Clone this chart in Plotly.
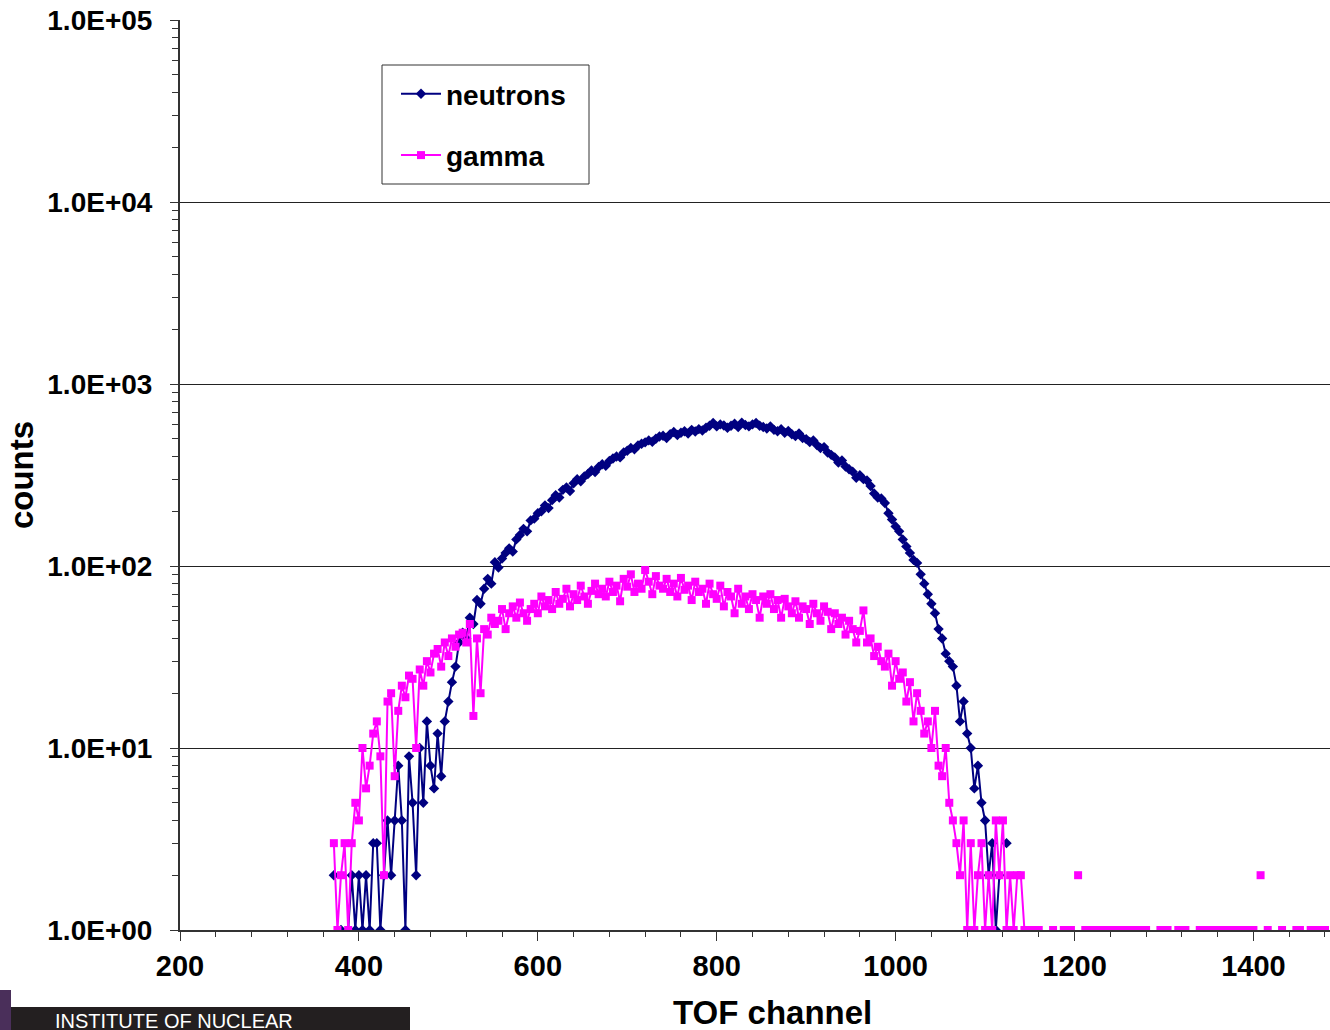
import plotly.graph_objects as go

# TOF channel grid (every 4th channel) and counts
N_START, G_START, STEP = 372, 372, 4

neutron_counts = [
    2, None, 1, None, 1, 2, 1, 2, 1, 2,          # 372-408
    1, 3, 3, 1, 2, 4, 2, 4, 8, 4,                # 412-448
    1, 9, 5, 2, 10, 5, 14, 8, 6, 12,             # 452-488
    7, 14, 18, 23, 28, 38, 43, 40, 52, 48,       # 492-528
    65, 62, 75, 85, 80, 105, 98, 110, 118, 125,  # 532-568
    120, 140, 148, 160, 155, 178, 182, 195, 200, 215,  # 572-608
    208, 230, 245, 238, 262, 270, 258, 285, 300, 292,  # 612-648
    310, 320, 335, 328, 350, 362, 355, 378, 390, 400,  # 652-688
    395, 420, 430, 445, 438, 460, 470, 478, 490, 482,  # 692-728
    500, 515, 520, 505, 530, 545, 525, 540, 550, 535,  # 732-768
    560, 548, 565, 555, 575, 590, 610, 585, 600, 592,  # 772-808
    575, 590, 605, 580, 612, 595, 585, 600, 610, 590,  # 812-848
    580, 570, 585, 560, 550, 565, 540, 552, 530, 518,  # 852-888
    535, 505, 498, 480, 490, 462, 445, 450, 420, 408,  # 892-928
    395, 370, 380, 352, 340, 330, 305, 315, 300, 295,  # 932-968
    275, 250, 238, 235, 222, 195, 180, 165, 155, 140,  # 972-1008
    128, 118, 108, 104, 90, 80, 70, 62, 55, 45,        # 1012-1048
    40, 33, 30, 28, 22, 14, 18, 12, 10, 6,             # 1052-1088
    8, 5, 4, 2, 3, 1, 2, None, 3,                      # 1092-1124
]

gamma_counts = [
    3, 1, 2, 3, 1, 3, 5, 4, 10, 6,               # 372-408
    8, 12, 14, 9, 2, 18, 20, 7, 16, 22,          # 412-448
    19, 25, 24, 10, 27, 22, 30, 26, 33, 35,      # 452-488
    28, 38, 32, 40, 36, 42, 43, 38, 48, 15,      # 492-528
    40, 20, 45, 42, 52, 48, 50, 58, 45, 55,      # 532-568
    60, 52, 63, 55, 50, 58, 62, 55, 68, 60,      # 572-608
    65, 58, 72, 62, 66, 75, 60, 70, 65, 78,      # 612-648
    68, 62, 73, 80, 70, 75, 68, 82, 72, 78,      # 652-688
    64, 85, 77, 90, 72, 80, 75, 95, 82, 70,      # 692-728
    88, 78, 75, 85, 72, 80, 68, 86, 74, 78,      # 732-768
    65, 82, 72, 75, 62, 80, 70, 66, 78, 60,      # 772-808
    72, 68, 55, 75, 62, 68, 58, 70, 65, 52,      # 812-848
    68, 62, 70, 58, 65, 52, 66, 60, 55, 64,      # 852-888
    52, 60, 58, 48, 62, 55, 50, 60, 56, 45,      # 892-928
    55, 48, 52, 42, 50, 45, 38, 44, 57, 38,      # 932-968
    40, 32, 36, 30, 28, 33, 22, 30, 24, 26,      # 972-1008
    18, 23, 14, 20, 16, 12, 14, 10, 16, 8,       # 1012-1048
    7, 10, 5, 4, 3, 2, 4, 1, 3, 1,               # 1052-1088
    2, 3, 1, 2, 1, 4, 2, 4, 1, 2,                # 1092-1128
    1, 2, 2, 1, 1, 1, None, 1, None, None,       # 1132-1168
    None, 1, None, None, 1, 1, 1, None, 2, None, # 1172-1208
    1, 1, 1, 1, 1, 1, 1, None, 1, 1,             # 1212-1248
    1, 1, 1, 1, 1, 1, 1, 1, None, None,          # 1252-1288
    None, 1, 1, 1, None, None, 1, 1, 1, None,    # 1292-1328
    None, None, 1, 1, 1, 1, 1, None, 1, 1,       # 1332-1368
    None, 1, 1, 1, 1, 1, 1, 1, None, 2,          # 1372-1408
    None, 1, None, None, None, 1, None, None, None, 1,  # 1412-1448
    1, None, None, 1, None, 1, 1, 1,             # 1452-1480
]

neutron_channels = [N_START + STEP * i for i in range(len(neutron_counts))]
gamma_channels = [G_START + STEP * i for i in range(len(gamma_counts))]

y_tick_vals = [1, 10, 100, 1000, 10000, 100000]
y_tick_text = ["1.0E+00", "1.0E+01", "1.0E+02", "1.0E+03", "1.0E+04", "1.0E+05"]
x_tick_vals = [200, 400, 600, 800, 1000, 1200, 1400]

FONT = "Liberation Sans, Arial, sans-serif"

# plot-area geometry (pixels) used to place overlays in paper coordinates
L, T, PW, PH = 180, 20, 1150, 910


def px_x(px):
    return (px - L) / PW


def px_y(py):
    return (T + PH - py) / PH


fig = go.Figure()
fig.add_trace(go.Scatter(
    x=neutron_channels, y=neutron_counts, name="neutrons", mode="lines+markers",
    line=dict(color="#000080", width=2),
    marker=dict(symbol="diamond", size=8, color="#000080"),
    connectgaps=False, legendgroup="n",
))
fig.add_trace(go.Scatter(
    x=gamma_channels, y=gamma_counts, name="gamma", mode="lines+markers",
    line=dict(color="#FF00FF", width=2),
    marker=dict(symbol="square", size=8, color="#FF00FF"),
    connectgaps=False, legendgroup="g",
))

minor_y = [m * 10 ** e for e in range(5) for m in range(2, 10)]

fig.update_layout(
    width=1330, height=1030,
    margin=dict(l=L, r=1330 - L - PW, t=T, b=1030 - T - PH, autoexpand=False),
    paper_bgcolor="white", plot_bgcolor="white",
    font=dict(family=FONT, color="black"),
    showlegend=True,
    legend=dict(
        x=px_x(396), y=px_y(69), xanchor="left", yanchor="top",
        bgcolor="rgba(0,0,0,0)", borderwidth=0,
        font=dict(size=28, family=FONT, color="black", weight="bold"),
        traceorder="grouped", tracegroupgap=22, itemwidth=40,
    ),
    xaxis=dict(
        range=[200, 1485.6], showgrid=False, zeroline=False, automargin=False,
        showline=True, linecolor="#333333", linewidth=2,
        tickmode="array", tickvals=x_tick_vals,
        ticks="outside", ticklen=9, tickwidth=1, tickcolor="#333333",
        tickfont=dict(size=29, family=FONT, weight="bold"),
        minor=dict(dtick=40, tick0=200, ticks="outside", ticklen=5, tickcolor="#333333", showgrid=False),
    ),
    yaxis=dict(
        type="log", range=[0, 5], zeroline=False, automargin=False,
        showgrid=True, gridcolor="#222222", gridwidth=1,
        showline=True, linecolor="#333333", linewidth=2,
        tickmode="array", tickvals=y_tick_vals, ticktext=y_tick_text,
        ticks="outside", ticklen=8, tickwidth=1, tickcolor="#333333",
        ticklabelstandoff=12,
        tickfont=dict(size=28, family=FONT, weight="bold"),
        minor=dict(tickmode="array", tickvals=minor_y, ticks="outside", ticklen=6,
                   tickcolor="#333333", showgrid=False),
        title=dict(text="<b>counts</b>", font=dict(size=33, family=FONT), standoff=4),
    ),
)

# legend frame
fig.add_shape(type="rect", xref="paper", yref="paper",
              x0=px_x(382), x1=px_x(589), y0=px_y(65), y1=px_y(184),
              fillcolor="rgba(0,0,0,0)", line=dict(color="#333333", width=1), layer="above")

# x-axis title (centred where the reference puts it)
fig.add_annotation(xref="paper", yref="paper", x=px_x(772), y=px_y(1013),
                   xanchor="center", yanchor="middle", showarrow=False,
                   text="<b>TOF channel</b>", font=dict(size=33, family=FONT, color="black"))

# institute banner at bottom-left
fig.add_shape(type="rect", xref="paper", yref="paper",
              x0=px_x(0), x1=px_x(410), y0=px_y(1007), y1=px_y(1032),
              fillcolor="#231f20", line=dict(width=0), layer="above")
fig.add_shape(type="rect", xref="paper", yref="paper",
              x0=px_x(0), x1=px_x(11), y0=px_y(990), y1=px_y(1032),
              fillcolor="#4a2f5a", line=dict(width=0), layer="above")
fig.add_annotation(xref="paper", yref="paper", x=px_x(53), y=px_y(1008),
                   xanchor="left", yanchor="top", showarrow=False,
                   text="INSTITUTE OF NUCLEAR",
                   font=dict(size=20, color="white", family=FONT))

fig.write_html("out.html", config={"displayModeBar": False},
               post_script="document.body.style.margin='0';")
